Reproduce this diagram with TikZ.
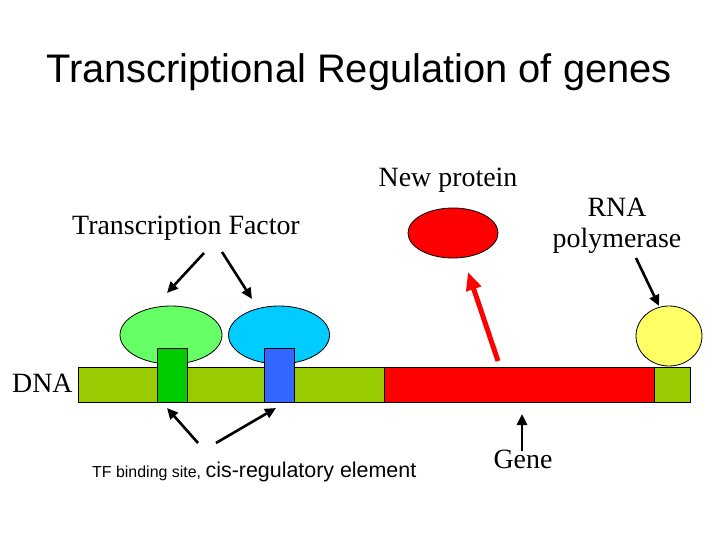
\documentclass[tikz,border=0pt]{standalone}
\usepackage{fontspec}
\setmainfont{Liberation Serif}
\setsansfont{Liberation Sans}
\usepackage{tikz}
\usetikzlibrary{shapes,arrows.meta,positioning}

\definecolor{dnagreen}{RGB}{153,204,0}
\definecolor{sitegreen}{RGB}{0,204,0}
\definecolor{siteblue}{RGB}{51,102,255}
\definecolor{tfgreen}{RGB}{102,255,102}
\definecolor{tfblue}{RGB}{0,204,255}
\definecolor{polyellow}{RGB}{255,255,102}

\tikzset{
  lbl/.style={font=\fontsize{28}{32}\selectfont, anchor=base, inner sep=0pt},
  blob/.style={draw, ellipse, line width=0.8bp, inner sep=0pt},
  seg/.style={draw, line width=0.8bp, inner sep=0pt, anchor=north west, minimum height=35bp},
  site/.style={draw, line width=0.8bp, inner sep=0pt, anchor=north west, minimum width=30bp, minimum height=54bp},
  arr/.style={-{Triangle[length=11bp,width=10bp]}, line width=2.6bp}
}

\begin{document}
\begin{tikzpicture}[x=1bp,y=-1bp]
\useasboundingbox[fill=white] (0,0) rectangle (720,540);

% title
\node[font=\sffamily\fontsize{40}{48}\selectfont, anchor=base, inner sep=0pt] (title) at (359,83) {Transcriptional Regulation of genes};

% proteins
\node[blob, fill=tfgreen, minimum width=102bp, minimum height=58bp] (tf1) at (171,335) {};
\node[blob, fill=tfblue, minimum width=101bp, minimum height=58bp] (tf2) at (279,335) {};
\node[blob, fill=red, minimum width=90bp, minimum height=50bp] (prot) at (453,233) {};
\node[blob, fill=polyellow, minimum width=66bp, minimum height=60bp] (pol) at (669,336) {};

% DNA strand
\node[seg, fill=dnagreen, minimum width=306bp] (dna1) at (78,367) {};
\node[seg, fill=red, minimum width=270bp] (gene) at (384,367) {};
\node[seg, fill=dnagreen, minimum width=36bp] (dna2) at (654,367) {};

% binding sites
\node[site, fill=sitegreen] (site1) at (157,348) {};
\node[site, fill=siteblue] (site2) at (264,348) {};

% labels
\node[lbl] (newprot) at (448,187) {New protein};
\node[lbl] (tflbl) at (186,235) {Transcription Factor};
\node[lbl] (rnalbl) at (617,217) {RNA};
\node[lbl] (pollbl) at (617,248) {polymerase};
\node[lbl, anchor=base west] (dnalbl) at (12,392) {DNA};
\node[lbl] (genelbl) at (523,468) {Gene};
\node[font=\sffamily, anchor=base west, inner sep=0pt] (sitelbl) at (92,477)
  {{\fontsize{16}{18}\selectfont TF binding site, }{\fontsize{21.5}{24}\selectfont cis-regulatory element}};

% arrow ends
\coordinate (tfa) at (204,253);
\coordinate (tfb) at (222,252);
\coordinate (tfaend) at (167,293);
\coordinate (tfbend) at (252,299);
\coordinate (sa) at (198,443);
\coordinate (sb) at (216,443);
\coordinate (saend) at (167,408);
\coordinate (sbend) at (276,408);
\coordinate (pa) at (636,258);
\coordinate (paend) at (659,306);
\coordinate (ga) at (522,451);
\coordinate (gaend) at (522,414);
\coordinate (ra) at (498,361);
\coordinate (raend) at (468,272);

\draw[arr] (tfa) -- (tfaend);
\draw[arr] (tfb) -- (tfbend);
\draw[arr] (sa) -- (saend);
\draw[arr] (sb) -- (sbend);
\draw[arr] (pa) -- (paend);
\draw[arr] (ga) -- (gaend);
\draw[-{Triangle[length=18bp,width=15bp]}, line width=5bp, red] (ra) -- (raend);
\end{tikzpicture}
\end{document}
